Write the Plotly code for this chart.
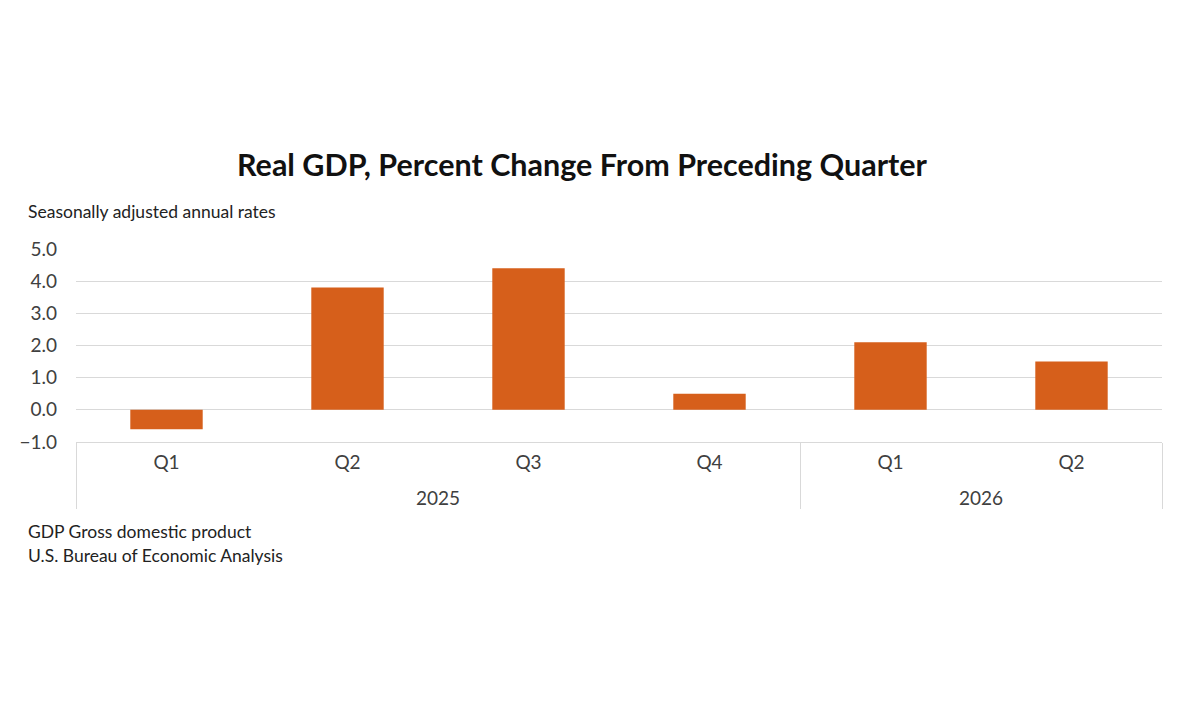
import plotly.graph_objects as go

years = ["2025", "2025", "2025", "2025", "2026", "2026"]
quarters = ["Q1", "Q2", "Q3", "Q4", "Q1", "Q2"]
gdp_change = [-0.6, 3.8, 4.4, 0.5, 2.1, 1.5]

y_ticks = [-1, 0, 1, 2, 3, 4, 5]

font_name = "Lato"
bar_color = "#D65F1B"
grid_color = "#D9D9D9"
text_color = "#404040"

# x labels drawn at 19px inside a span; the axis font is kept smaller so the
# blank second line under each quarter only nudges the year row down a bit
big = "<span style='font-size:19px'>{}</span>"
quarter_labels = [big.format(q) + "<br>&nbsp;" for q in quarters]
year_labels = [big.format(y) for y in years]

# page body adds 8px around the figure
fig = go.Figure()
fig.add_trace(go.Bar(
    x=[year_labels, quarter_labels],
    y=gdp_change,
    marker=dict(color=bar_color, line=dict(width=0)),
    width=0.4,
))

fig.update_layout(
    width=1200, height=727,
    paper_bgcolor="white", plot_bgcolor="white",
    margin=dict(l=68, r=46, t=241, b=293),
    showlegend=False,
    font=dict(family=font_name, color=text_color, size=19),
    title=dict(
        text="<b>Real GDP, Percent Change From Preceding Quarter</b>",
        x=(582 - 8) / 1200, xanchor="center", y=1 - (165 - 8) / 727, yanchor="middle",
        font=dict(family=font_name, size=30.5, color="#111111"),
    ),
)

fig.update_yaxes(
    range=[-1, 5], tickvals=y_ticks, tickformat=".1f",
    showgrid=True, gridcolor=grid_color, gridwidth=1,
    zeroline=False, showline=False, ticks="",
    tickfont=dict(size=19, color=text_color), ticklabelstandoff=18,
)
fig.update_xaxes(
    showline=True, linecolor=grid_color, linewidth=1,
    showdividers=True, dividercolor=grid_color, dividerwidth=1,
    ticks="", tickfont=dict(size=15, color=text_color), ticklabelstandoff=8,
)

note_font = dict(size=17.5, color="#222222")
fig.add_annotation(text="Seasonally adjusted annual rates", xref="paper", yref="paper",
                   x=-50 / 1086, y=1 + 38 / 193, xanchor="left", yanchor="middle",
                   showarrow=False, font=note_font)
fig.add_annotation(text="GDP Gross domestic product", xref="paper", yref="paper",
                   x=-50 / 1086, y=-89 / 193, xanchor="left", yanchor="middle",
                   showarrow=False, font=note_font)
fig.add_annotation(text="U.S. Bureau of Economic Analysis", xref="paper", yref="paper",
                   x=-50 / 1086, y=-113 / 193, xanchor="left", yanchor="middle",
                   showarrow=False, font=note_font)

fig.write_html("out.html")
